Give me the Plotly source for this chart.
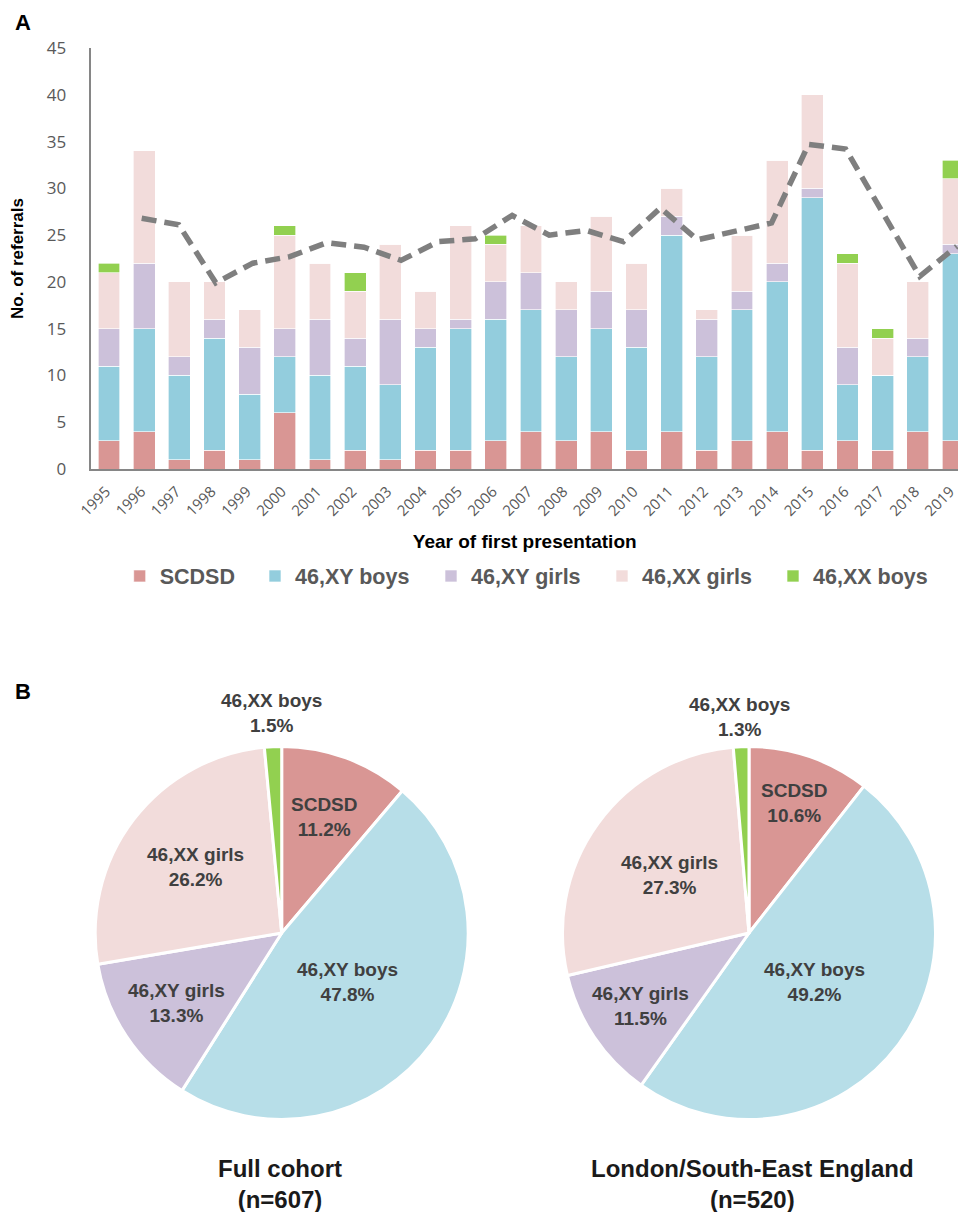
import math
import plotly.graph_objects as go

W, H = 958, 1212

# ---------------- data ----------------
years = [str(y) for y in range(1995, 2020)]
categories = ["SCDSD", "46,XY boys", "46,XY girls", "46,XX girls", "46,XX boys"]
scdsd    = [3, 4, 1, 2, 1, 6, 1, 2, 1, 2, 2, 3, 4, 3, 4, 2, 4, 2, 3, 4, 2, 3, 2, 4, 3]
xy_boys  = [8, 11, 9, 12, 7, 6, 9, 9, 8, 11, 13, 13, 13, 9, 11, 11, 21, 10, 14, 16, 27, 6, 8, 8, 20]
xy_girls = [4, 7, 2, 2, 5, 3, 6, 3, 7, 2, 1, 4, 4, 5, 4, 4, 2, 4, 2, 2, 1, 4, 0, 2, 1]
xx_girls = [6, 12, 8, 4, 4, 10, 6, 5, 8, 4, 10, 4, 5, 3, 8, 5, 3, 1, 6, 11, 10, 9, 4, 6, 7]
xx_boys  = [1, 0, 0, 0, 0, 1, 0, 2, 0, 0, 0, 1, 0, 0, 0, 0, 0, 0, 0, 0, 0, 1, 1, 0, 2]

# dashed trend line (moving-average style, 23 periods)
line_periods = [str(y) for y in range(1997, 2020)]
line_vals = [26.8, 26.1, 19.9, 22.0, 22.7, 24.2, 23.7, 22.3, 24.3, 24.6, 27.1, 25.0,
             25.5, 24.3, 27.9, 24.5, 25.4, 26.3, 34.7, 34.2, 27.4, 20.6, 23.8]

y_ticks = [0, 5, 10, 15, 20, 25, 30, 35, 40, 45]

# pies
pie1_counts = [sum(scdsd), sum(xy_boys), sum(xy_girls), sum(xx_girls), sum(xx_boys)]
pie2_counts = [55, 256, 60, 142, 7]
pie1_title = ["Full cohort", "(n=607)"]
pie2_title = ["London/South-East England", "(n=520)"]

# ---------------- styles ----------------
bar_colors = ["#D99694", "#93CDDD", "#CCC1DA", "#F2DCDB", "#92D050"]
pie_colors = ["#D99694", "#B7DEE8", "#CCC1DA", "#F2DCDB", "#92D050"]
series = [scdsd, xy_boys, xy_girls, xx_girls, xx_boys]

GRAY = "#595959"
AX = "#868686"

# plot area in pixels
px_left, px_right = 91.4, 958.0
px_top, px_bot = 48.0, 469.0
xr_hi = -0.5 + (px_right - px_left) / 35.17

fig = go.Figure()

legend_names = ["legend", "legend2", "legend3", "legend4", "legend5"]
for name, vals, col, lg in zip(categories, series, bar_colors, legend_names):
    fig.add_trace(go.Bar(
        x=years, y=vals, name=name,
        marker=dict(color=col, line=dict(color="rgba(255,255,255,0.8)", width=0.8)),
        legend=lg,
        xaxis="x", yaxis="y",
    ))

# line on a secondary (hidden) category axis with 23 periods
l0_px, step_px = 141.7, 37.05
x2_lo = -(l0_px - px_left) / step_px
x2_hi = (px_right - l0_px) / step_px
fig.add_trace(go.Scatter(
    x=line_periods, y=line_vals, mode="lines",
    line=dict(color="#7F7F7F", width=5.5, dash="15px,8px"),
    xaxis="x2", yaxis="y", showlegend=False, hoverinfo="skip",
))

# pies
R = 186.5
pie_centers = [(281.7, 933.0), (749.0, 933.0)]
for (cx, cy), vals in zip(pie_centers, [pie1_counts, pie2_counts]):
    fig.add_trace(go.Pie(
        values=vals, labels=categories, sort=False, direction="clockwise", rotation=0,
        marker=dict(colors=pie_colors, line=dict(color="white", width=3)),
        textinfo="none", showlegend=False,
        domain=dict(x=[(cx - R) / W, (cx + R) / W], y=[1 - (cy + R) / H, 1 - (cy - R) / H]),
    ))

# ---------------- annotations ----------------
ann = []
lab_font = dict(family="Liberation Sans", size=19, color="#404040", weight="bold")
rfs = [[0.66, 0.44, 0.68, 0.58, 1.18], [0.74, 0.44, 0.70, 0.53, 1.16]]
for (cx, cy), vals, rf in zip(pie_centers, [pie1_counts, pie2_counts], rfs):
    tot = sum(vals)
    cum = 0
    for i, v in enumerate(vals):
        mid = (cum + v / 2) / tot * 2 * math.pi
        cum += v
        lx = cx + rf[i] * R * math.sin(mid)
        ly = cy - rf[i] * R * math.cos(mid)
        ann.append(dict(
            x=lx / W, y=1 - ly / H, xref="paper", yref="paper",
            text=f"{categories[i]}<br>{100 * v / tot:.1f}%", showarrow=False,
            font=lab_font, align="center", xanchor="center", yanchor="middle",
        ))

title_font = dict(family="Liberation Sans", size=24, color="#1a1a1a", weight="bold")
for (cx, cy), t in zip([(279.5, 1184.0), (752.0, 1184.0)], [pie1_title, pie2_title]):
    ann.append(dict(x=cx / W, y=1 - cy / H, xref="paper", yref="paper",
                    text="<br>".join(t), showarrow=False, font=title_font,
                    align="center", xanchor="center", yanchor="middle"))

panel_font = dict(family="Liberation Sans", size=22, color="black", weight="bold")
ann.append(dict(x=23 / W, y=1 - 23 / H, xref="paper", yref="paper", text="A",
                showarrow=False, font=panel_font, xanchor="center", yanchor="middle"))
ann.append(dict(x=23 / W, y=1 - 691 / H, xref="paper", yref="paper", text="B",
                showarrow=False, font=panel_font, xanchor="center", yanchor="middle"))

# ---------------- legends ----------------
leg_font = dict(family="Liberation Sans", size=21.5, color=GRAY, weight="bold")
leg_x_px = [141.7, 277.0, 453.0, 624.0, 795.0]
legends = {}
for lg, xp in zip(legend_names, leg_x_px):
    legends[lg] = dict(x=(xp - 22) / W, y=1 - 576 / H, xanchor="left", yanchor="middle",
                       orientation="h", font=leg_font, bgcolor="rgba(0,0,0,0)",
                       borderwidth=0, itemclick=False, itemdoubleclick=False)

fig.update_layout(
    width=W, height=H,
    margin=dict(l=0, r=0, t=0, b=0, pad=0, autoexpand=False),
    paper_bgcolor="white", plot_bgcolor="white",
    barmode="stack", bargap=0.38,
    showlegend=True,
    annotations=ann,
    xaxis=dict(
        domain=[px_left / W, 1.0], range=[-0.5, xr_hi], type="category",
        showline=True, linecolor=AX, linewidth=2, showgrid=False, zeroline=False,
        ticks="", tickangle=-45, ticklabelstandoff=6, ticklabelshift=-3, automargin=False,
        tickfont=dict(family="Open Sans", size=15, color=GRAY),
        title=dict(text="Year of first presentation", standoff=16,
                   font=dict(family="Liberation Sans", size=19, color="black", weight="bold")),
        anchor="y",
    ),
    xaxis2=dict(
        overlaying="x", type="category", range=[x2_lo, x2_hi], visible=False, anchor="y",
    ),
    yaxis=dict(
        domain=[1 - px_bot / H, 1 - px_top / H], range=[0, 45],
        tickvals=y_ticks, showline=True, linecolor=AX, linewidth=1.5, automargin=False,
        showgrid=False, zeroline=False, ticks="", ticklabelstandoff=20,
        tickfont=dict(family="Open Sans", size=17, color=GRAY),
        title=dict(text="No. of referrals", standoff=19,
                   font=dict(family="Liberation Sans", size=17, color="black", weight="bold")),
    ),
    **legends,
)

fig.write_html(
    "out.html",
    config={"displayModeBar": False},
    post_script="document.body.style.margin='0';document.body.style.overflow='hidden';"
                "document.documentElement.style.overflow='hidden';",
)
